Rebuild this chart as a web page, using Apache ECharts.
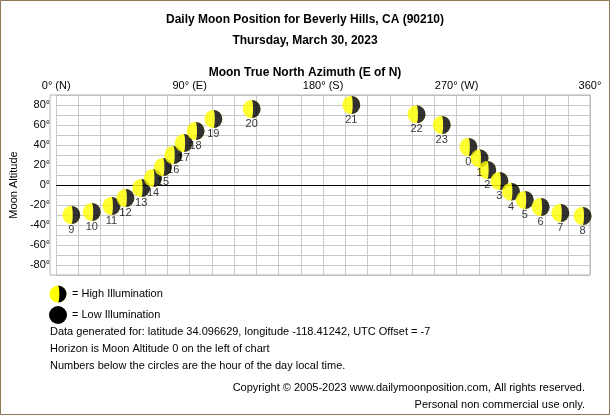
<!DOCTYPE html>
<html>
<head>
<meta charset="utf-8">
<script src="https://cdn.jsdelivr.net/npm/echarts@6/dist/echarts.min.js"></script>
<style>
html,body{margin:0;padding:0;background:#fff;}
#main{width:610px;height:415px;}
</style>
</head>
<body>
<div id="main"></div>
<script>
// moon positions by hour: [azimuth, altitude]
var hours = [9,10,11,12,13,14,15,16,17,18,19,20,21,22,23,0,1,2,3,4,5,6,7,8];
var azimuth = [10.2,24,37.3,46.7,57.3,65.3,72,79,86,94,106,131.8,199,243,260,278,285.5,290.7,298.9,306.7,316,326.7,340,355];
var altitude = [-30,-27,-21,-13,-3,7,18,30,42,54,66,76,80,70.7,60,38,26.7,15,4,-6.7,-15,-22,-28,-31];
var xTicks = {0:'0° (N)',90:'90° (E)',180:'180° (S)',270:'270° (W)',360:'360°'};

var moonSvg = 'data:image/svg+xml;utf8,' + encodeURIComponent(
  '<svg xmlns="http://www.w3.org/2000/svg" width="40" height="40">' +
  '<circle cx="20" cy="20" r="19" fill="#ffff00"/>' +
  '<path d="M20 1 A19 19 0 0 1 20 39 A3 19 0 0 0 20 1 Z" fill="#000"/></svg>');

var pts = [];
for (var i = 0; i < hours.length; i++) {
  pts.push({value: [azimuth[i], altitude[i]], label: {formatter: String(hours[i])}});
}

var txt = function(x, y, t, o) {
  var s = {text: t, x: x, y: y, fill: '#000', font: '11px Arial, "Liberation Sans", sans-serif'};
  for (var k in o) s[k] = o[k];
  return {type: 'text', style: s};
};

var myChart = echarts.init(document.getElementById('main'));
myChart.setOption({
  animation: false,
  backgroundColor: '#fff',
  grid: {left: 50, right: 20, top: 95, height: 180},
  xAxis: {
    type: 'value', position: 'top', min: 0, max: 360, interval: 15,
    axisLine: {show: false}, axisTick: {show: false},
    axisLabel: {color: '#000', fontSize: 11, fontFamily: 'Arial', margin: 4,
      formatter: function(v){ return xTicks[v] || ''; }},
    splitLine: {lineStyle: {color: '#c8c8c8', width: 1}}
  },
  yAxis: {
    type: 'value', min: -90, max: 90, interval: 10,
    name: 'Moon Altitude', nameLocation: 'middle', nameGap: 36,
    nameTextStyle: {color: '#000', fontSize: 11, fontFamily: 'Arial'},
    axisLine: {show: false}, axisTick: {show: false},
    axisLabel: {color: '#000', fontSize: 11, fontFamily: 'Arial', margin: 6,
      formatter: function(v){ return (v % 20 === 0 && Math.abs(v) <= 80) ? v + '°' : ''; }},
    splitLine: {lineStyle: {color: '#c8c8c8', width: 1}}
  },
  series: [{
    type: 'scatter',
    symbol: 'image://' + moonSvg,
    symbolSize: 19,
    data: pts,
    label: {show: true, position: 'bottom', distance: 0, color: '#000', fontSize: 11, fontFamily: 'Arial'},
    markLine: {
      silent: true, symbol: 'none', label: {show: false},
      lineStyle: {color: '#000', type: 'solid', width: 1},
      data: [{yAxis: 0}]
    },
    z: 5
  }],
  graphic: [
    {type: 'rect', shape: {x: 0.5, y: 0.5, width: 609, height: 414}, style: {fill: 'none', stroke: '#8c7a50', lineWidth: 1}},
    {type: 'rect', shape: {x: 50, y: 95, width: 540, height: 180}, style: {fill: 'none', stroke: '#b4b4b4', lineWidth: 1}, z: 1},
    txt(305, 14, 'Daily Moon Position for Beverly Hills, CA (90210)', {font: 'bold 12px Arial', textAlign: 'center'}),
    txt(305, 35, 'Thursday, March 30, 2023', {font: 'bold 12px Arial', textAlign: 'center'}),
    txt(305, 67, 'Moon True North Azimuth (E of N)', {font: 'bold 12px Arial', textAlign: 'center'}),
    {type: 'image', style: {image: moonSvg, x: 49, y: 285, width: 18, height: 18}},
    txt(72, 288, '= High Illumination'),
    {type: 'circle', shape: {cx: 58, cy: 315, r: 9}, style: {fill: '#000'}},
    txt(72, 309, '= Low Illumination'),
    txt(50, 326, 'Data generated for: latitude 34.096629, longitude -118.41242, UTC Offset = -7'),
    txt(50, 343, 'Horizon is Moon Altitude 0 on the left of chart'),
    txt(50, 360, 'Numbers below the circles are the hour of the day local time.'),
    txt(585, 382, 'Copyright © 2005-2023 www.dailymoonposition.com, All rights reserved.', {textAlign: 'right'}),
    txt(585, 399, 'Personal non commercial use only.', {textAlign: 'right'})
  ]
});
</script>
</body>
</html>
